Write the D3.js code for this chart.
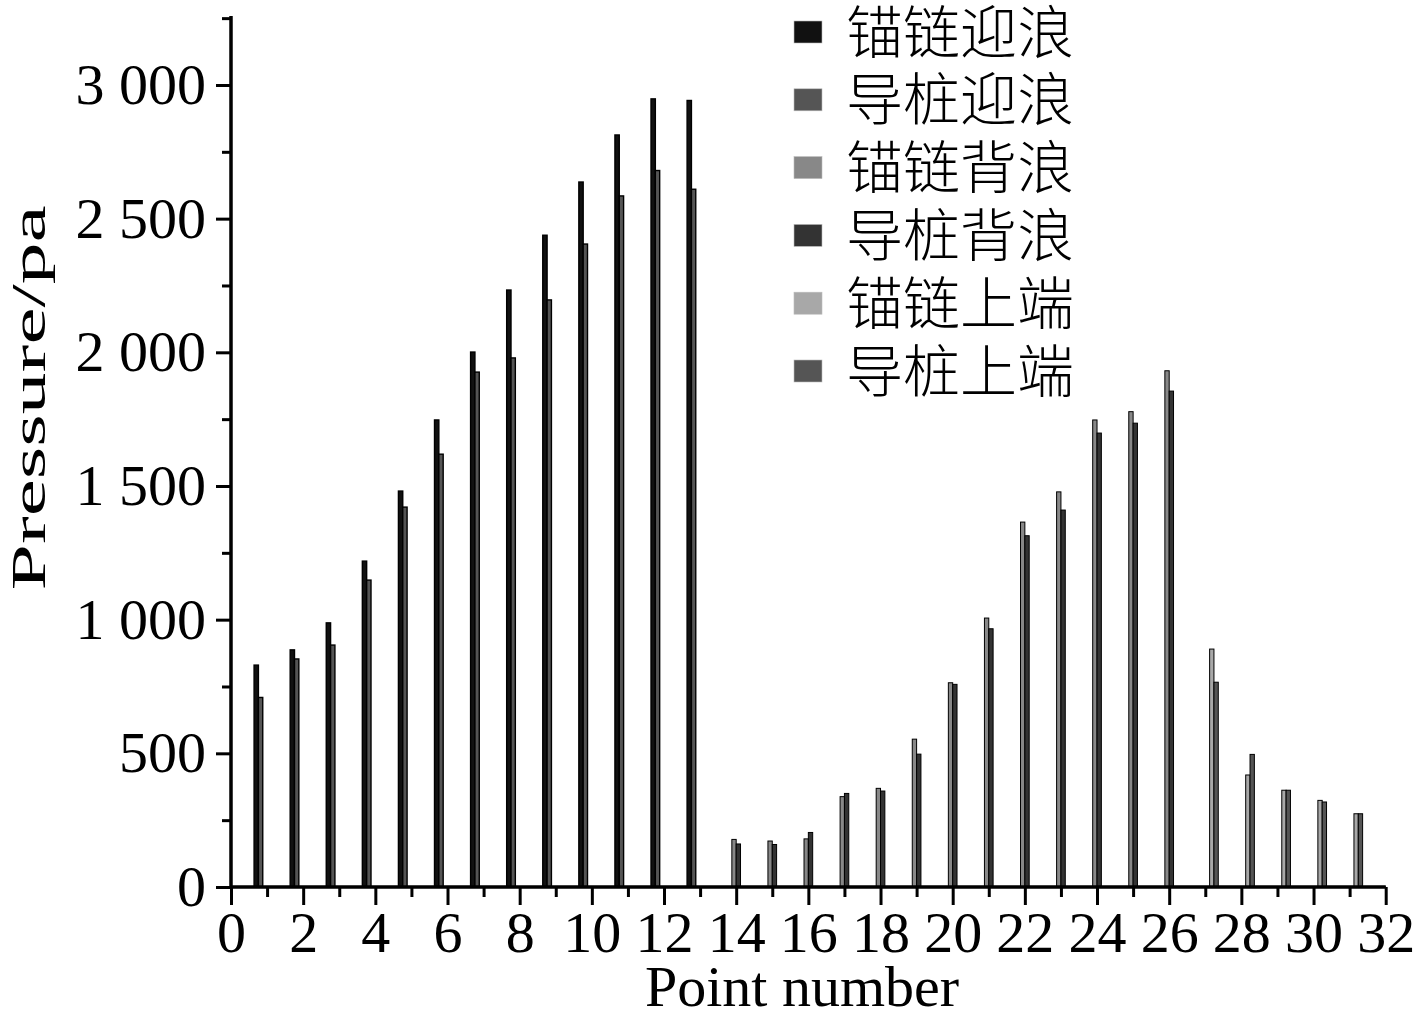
<!DOCTYPE html>
<html><head><meta charset="utf-8">
<script src="https://cdn.jsdelivr.net/npm/d3@7"></script>
<style>body{margin:0;background:#fff}svg{display:block}</style>
</head><body>
<script>
const seriesNames = ["锚链迎浪","导桩迎浪","锚链背浪","导桩背浪","锚链上端","导桩上端"];
const seriesColors = ["#111111","#555555","#888888","#333333","#a8a8a8","#555555"];
const headPoints = [1,2,3,4,5,6,7,8,9,10,11,12,13];
const backPoints = [14,15,16,17,18,19,20,21,22,23,24,25,26];
const topPoints = [27,28,29,30,31];
const anchorHead = [830, 887, 988, 1219, 1481, 1747, 2001, 2233, 2438, 2637, 2813, 2948, 2942];
const guideHead  = [709, 853, 905, 1148, 1421, 1619, 1926, 1979, 2196, 2405, 2585, 2680, 2610];
const anchorBack = [178, 172, 180, 338, 369, 553, 764, 1006, 1365, 1478, 1747, 1778, 1931];
const guideBack  = [161, 159, 204, 350, 359, 497, 758, 966, 1314, 1410, 1698, 1735, 1855];
const anchorTop  = [890, 419, 362, 324, 274];
const guideTop   = [766, 496, 362, 318, 274];
const xTickValues = [0,2,4,6,8,10,12,14,16,18,20,22,24,26,28,30,32];
const yTickValues = [0,500,1000,1500,2000,2500,3000];
const yTickLabels = ["0","500","1 000","1 500","2 000","2 500","3 000"];
const xTitle = "Point number";
const yTitle = "Pressure/pa";

const seriesPoints = [headPoints, headPoints, backPoints, backPoints, topPoints, topPoints];
const seriesValues = [anchorHead, guideHead, anchorBack, guideBack, anchorTop, guideTop];
const bars = [];
seriesNames.forEach((name, i) => {
  seriesPoints[i].forEach((p, j) => bars.push({series: name, idx: i, point: p, value: seriesValues[i][j]}));
});

const W = 1417, H = 1020;
const svg = d3.select("body").append("svg").attr("width", W).attr("height", H);
const x = d3.scaleLinear().domain([0, 32]).range([231, 1385.7]);
const y = d3.scaleLinear().domain([0, 3258]).range([887, 16]);
const sub = d3.scaleBand().domain(seriesNames).range([-13, 13]).padding(0);
const color = d3.scaleOrdinal().domain(seriesNames).range(seriesColors);
const font = "'Liberation Serif','Times New Roman',serif";

// bars
svg.append("g").selectAll("rect").data(bars).join("rect")
  .attr("x", d => x(d.point) + sub(d.series))
  .attr("y", d => y(d.value))
  .attr("width", sub.bandwidth())
  .attr("height", d => y(0) - y(d.value))
  .attr("fill", d => color(d.series))
  .attr("stroke", "#000").attr("stroke-width", d => d.idx < 2 ? 1.4 : 1);

// x axis
const gx = svg.append("g").attr("transform", `translate(0,${y(0)})`);
gx.call(d3.axisBottom(x).tickValues(d3.range(1, 32, 2)).tickSize(10).tickFormat(""));
gx.call(g => g.append("g").call(d3.axisBottom(x).tickValues(xTickValues).tickSize(18).tickPadding(6).tickFormat(d3.format("d"))));
gx.selectAll("path").attr("stroke-width", 3).attr("stroke", "#000");
gx.selectAll("line").attr("stroke-width", 3).attr("stroke", "#000");
gx.selectAll("text").attr("font-family", font).attr("font-size", 58).attr("fill", "#000");
gx.selectAll(".domain").attr("d", `M${x(0)},0H${x(32)}`);

// y axis
const gy = svg.append("g").attr("transform", `translate(${x(0)},0)`);
gy.call(d3.axisLeft(y).tickValues(d3.range(250, 3300, 500)).tickSize(9).tickFormat(""));
gy.call(g => g.append("g").call(d3.axisLeft(y).tickValues(yTickValues).tickSize(15).tickPadding(10)
  .tickFormat((d, i) => yTickLabels[i])));
gy.selectAll("path").attr("stroke-width", 3).attr("stroke", "#000");
gy.selectAll("line").attr("stroke-width", 3).attr("stroke", "#000");
gy.selectAll("text").attr("font-family", font).attr("font-size", 58).attr("fill", "#000");
gy.selectAll(".domain").attr("d", `M0,${y(0)}V${y(3258)}`);

// titles
svg.append("text").attr("x", 802).attr("y", 1006).attr("text-anchor", "middle")
  .attr("font-family", font).attr("font-size", 58).text(xTitle);
const yt = svg.append("text").attr("text-anchor", "middle")
  .attr("font-family", font).attr("font-size", 48).text(yTitle);
const natural = yt.node().getComputedTextLength();
const sx = 385 / natural;
yt.attr("transform", `translate(45,398) rotate(-90) scale(${sx},1)`);

// legend
const lg = svg.append("g").selectAll("g").data(seriesNames).join("g")
  .attr("transform", (d, i) => `translate(794,${32 + i * 67.8})`);
lg.append("rect").attr("x", 0).attr("y", -11).attr("width", 28).attr("height", 22)
  .attr("fill", d => color(d)).attr("stroke", "#bbb").attr("stroke-width", 0.6);
lg.append("text").attr("x", 52).attr("y", 0).attr("dy", "0.36em")
  .attr("font-family", "'Noto Sans CJK SC', sans-serif").attr("font-size", 57).attr("font-weight", 300)
  .text(d => d);
</script>
</body></html>
